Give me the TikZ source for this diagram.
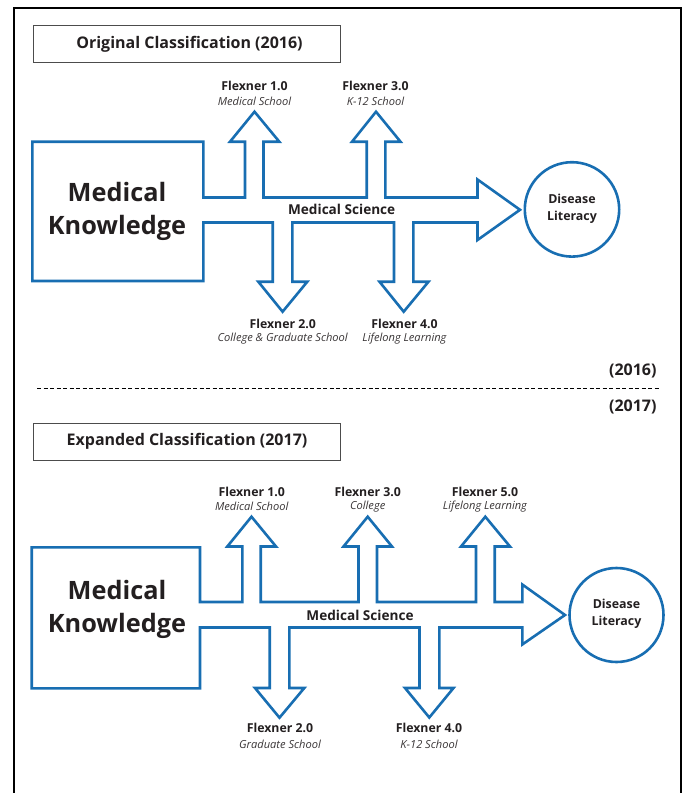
\documentclass[tikz,border=0pt]{standalone}
\usepackage{fontspec}
\setmainfont{Open Sans}
\definecolor{flexblue}{RGB}{24,110,178}
\definecolor{inkgray}{RGB}{35,31,32}
\begin{document}
\begin{tikzpicture}[x=1pt,y=-1pt,
  arrowline/.style={draw=flexblue,line width=2.6pt,line join=miter,fill=white},
  frameline/.style={draw=black,line width=1.8pt},
  titlebox/.style={draw=black!70,line width=0.8pt},
  titletext/.style={font=\bfseries\fontsize{16}{18}\selectfont,text=inkgray},
  bigtext/.style={font=\bfseries\fontsize{25.3}{33}\selectfont,text=inkgray,align=center},
  flabel/.style={font=\bfseries\fontsize{12.3}{14}\selectfont,text=inkgray},
  fsub/.style={font=\itshape\fontsize{11.1}{12}\selectfont,text=inkgray!90},
  mstext/.style={font=\bfseries\fontsize{13.6}{15}\selectfont,text=inkgray},
  dltext/.style={font=\bfseries\fontsize{12.4}{17.3}\selectfont,text=inkgray,align=center},
  yeartext/.style={font=\bfseries\fontsize{16}{17}\selectfont,text=inkgray,anchor=east},
  circ/.style={draw=flexblue,line width=2.6pt,fill=white}
]
\useasboundingbox (0,0) rectangle (684,793);
% outer frame
\draw[frameline] (14,793) -- (14,8.3) -- (681,8.3) -- (681,793);

% ---------- 2016 ----------
\draw[titlebox] (33,25.7) rectangle (340,62.7);
\node[titletext] (t1) at (189.5,44) {Original Classification (2016)};

\draw[arrowline] (32.3,141.7) -- (203.3,141.7) -- (203.3,197.5)
  -- (245,197.5) -- (245,141.7) -- (230,141.7) -- (254.5,111.7) -- (279.3,141.7) -- (263.5,141.7) -- (263.5,197.5)
  -- (366.7,197.5) -- (366.7,141.7) -- (352,141.7) -- (376,111.7) -- (400.5,141.7) -- (385.3,141.7) -- (385.3,197.5)
  -- (477.5,197.5) -- (477.5,179.5) -- (520,209.8) -- (477.5,240) -- (477.5,222.5)
  -- (413.3,222.5) -- (413.3,281.7) -- (428.5,281.7) -- (403.7,311.7) -- (379.5,281.7) -- (394,281.7) -- (394,222.5)
  -- (292.3,222.5) -- (292.3,281.7) -- (307.3,281.7) -- (282.6,311.7) -- (258.3,281.7) -- (272.7,281.7) -- (272.7,222.5)
  -- (203.3,222.5) -- (203.3,281) -- (32.3,281) -- cycle;

\node[bigtext] (mk1) at (117,211.5) {Medical\\Knowledge};
\node[mstext] (ms1) at (341.7,209.3) {Medical Science};
\node[circ,circle,minimum size=94.4pt,inner sep=0pt] (c1) at (572,209.4) {};
\node[dltext] (dl1) at (572,208.5) {Disease\\Literacy};

\node[flabel] (f1a) at (254.5,86) {Flexner 1.0};
\node[fsub] (f1b) at (254.5,101) {Medical School};
\node[flabel] (f3a) at (375.5,86) {Flexner 3.0};
\node[fsub] (f3b) at (375.5,101) {K-12 School};
\node[flabel] (f2a) at (282.7,323.5) {Flexner 2.0};
\node[fsub] (f2b) at (282.7,338.5) {College \& Graduate School};
\node[flabel] (f4a) at (404.5,323.5) {Flexner 4.0};
\node[fsub] (f4b) at (404.5,338.5) {Lifelong Learning};

% ---------- divider ----------
\node[yeartext] (y16) at (660,371) {(2016)};
\draw[black,line width=0.9pt,dash pattern=on 4pt off 2.5pt] (37,388.5) -- (659,388.5);
\node[yeartext] (y17) at (660,407) {(2017)};

% ---------- 2017 ----------
\draw[titlebox] (33,423) rectangle (340,460);
\node[titletext] (t2) at (187,441.5) {Expanded Classification (2017)};

\draw[arrowline] (31.7,547.3) -- (200,547.3) -- (200,602)
  -- (242.3,602) -- (242.3,546.5) -- (227.3,546.5) -- (251.5,516.7) -- (276,546.5) -- (260.7,546.5) -- (260.7,602)
  -- (358.5,602) -- (358.5,546.5) -- (343.5,546.5) -- (367.7,516.7) -- (392,546.5) -- (377,546.5) -- (377,602)
  -- (476,602) -- (476,546.5) -- (461,546.5) -- (485.3,516.7) -- (510,546.5) -- (494.7,546.5) -- (494.7,602)
  -- (522.3,602) -- (522.3,584.5) -- (565,615) -- (522.3,644.5) -- (522.3,627.5)
  -- (439.3,627.5) -- (439.3,688) -- (453.5,688) -- (429.3,717.5) -- (405,688) -- (419.5,688) -- (419.5,627.5)
  -- (289.3,627.5) -- (289.3,688) -- (304.3,688) -- (279.5,717.7) -- (255,688) -- (269.7,688) -- (269.7,627.5)
  -- (200,627.5) -- (200,688.3) -- (31.7,688.3) -- cycle;

\node[bigtext] (mk2) at (117,609.5) {Medical\\Knowledge};
\node[mstext] (ms2) at (360,615) {Medical Science};
\node[circ,circle,minimum size=94pt,inner sep=0pt] (c2) at (616.5,615) {};
\node[dltext] (dl2) at (616.5,613.5) {Disease\\Literacy};

\node[flabel] (g1a) at (251.7,491.7) {Flexner 1.0};
\node[fsub] (g1b) at (251.7,506.7) {Medical School};
\node[flabel] (g3a) at (367.7,491.7) {Flexner 3.0};
\node[fsub] (g3b) at (367.7,506.7) {College};
\node[flabel] (g5a) at (485,491.7) {Flexner 5.0};
\node[fsub] (g5b) at (485,506.7) {Lifelong Learning};
\node[flabel] (g2a) at (280,728.3) {Flexner 2.0};
\node[fsub] (g2b) at (280,744) {Graduate School};
\node[flabel] (g4a) at (429,728.3) {Flexner 4.0};
\node[fsub] (g4b) at (429,744) {K-12 School};
\end{tikzpicture}
\end{document}
